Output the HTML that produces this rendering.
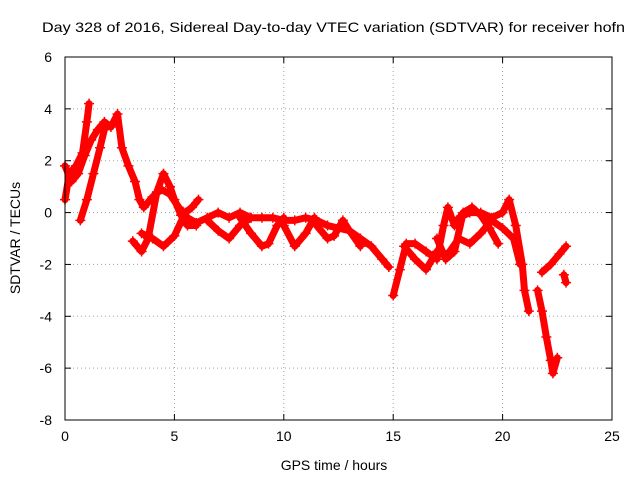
<!DOCTYPE html>
<html><head><meta charset="utf-8">
<style>
body{margin:0;background:#fff;}
svg{display:block;font-family:"Liberation Sans",sans-serif;}
</style></head>
<body>
<svg id="chart" width="640" height="480">
<text x="42" y="32" font-size="14" textLength="583" lengthAdjust="spacingAndGlyphs">Day 328 of 2016, Sidereal Day-to-day VTEC variation (SDTVAR) for receiver hofn</text>
<text x="334" y="470" font-size="14" text-anchor="middle">GPS time / hours</text>
<text transform="translate(20,238) rotate(-90)" font-size="14" text-anchor="middle">SDTVAR / TECUs</text>
<g id="grid"></g><g id="ticks"></g><g id="marks"></g>
<rect x="65" y="57" width="547" height="363" fill="none" stroke="#000" stroke-width="1"/>
</svg>
<script>
const xTicks=[0,5,10,15,20,25];
const yTicks=[-8,-6,-4,-2,0,2,4,6];
const track1=[[0,0.5],[0.2,1.5],[0.5,1.8],[0.8,2.3],[1.0,3.5],[1.1,4.2]];
const track2=[[0,1.8],[0.3,1.2],[0.6,1.5],[0.9,2.2],[1.2,2.8],[1.5,3.2],[1.8,3.5],[2.1,3.3],[2.4,3.8],[2.6,2.5],[2.9,1.8],[3.2,1.2],[3.4,0.5],[3.6,0.2],[4.0,0.6],[4.4,0.9],[4.8,0.7],[5.2,0.2],[5.6,-0.2],[6.0,-0.4],[6.5,-0.2],[7,0],[7.5,-0.2],[8,0],[8.5,-0.2],[9,-0.2],[9.5,-0.2],[10,-0.3],[10.5,-0.3],[11,-0.2],[11.5,-0.3],[12,-0.5],[12.5,-0.6],[13,-0.7],[13.5,-1.0],[14,-1.3],[14.5,-1.8],[14.8,-2.1]];
const track3=[[0.7,-0.3],[1.0,0.5],[1.3,1.5],[1.6,2.5],[1.8,3.2]];
const track4=[[3.1,-1.1],[3.5,-1.5],[3.8,-1.0],[4.2,0.8],[4.5,1.5],[4.8,1.0],[5.0,0.5],[5.3,-0.1],[5.6,-0.5],[6,-0.5]];
const track5=[[3.5,-0.8],[4,-1.0],[4.5,-1.3],[5,-0.9],[5.5,0],[5.8,0.2],[6.1,0.5]];
const track6=[[6.5,-0.3],[7,-0.7],[7.5,-1.0],[8,-0.5],[8.5,-0.2]];
const track7=[[8,-0.2],[8.5,-0.8],[9,-1.3],[9.3,-1.2],[9.7,-0.5],[10,-0.2]];
const track8=[[10,-0.5],[10.5,-1.3],[11,-0.8],[11.4,-0.2],[11.5,-0.5],[12,-1.0],[12.3,-0.9],[12.7,-0.3],[13,-0.7],[13.5,-1.3]];
const track9=[[15,-3.2],[15.3,-2.2],[15.6,-1.2],[16,-1.2],[16.5,-1.5],[17,-1.8],[17.3,-0.5],[17.5,0.2],[17.8,-0.5],[18,-0.2],[18.5,0],[19,0],[19.5,-0.2],[20,0],[20.3,0.5],[20.6,-0.5],[20.9,-2],[21,-3],[21.2,-3.8]];
const track10=[[15.5,-1.3],[16,-1.8],[16.5,-2.2],[17,-1.5],[17.5,-1.6],[18,-1.0],[18.5,-1.2],[19,-0.8],[19.5,-0.3],[20,-0.6],[20.5,-1.0],[20.8,-2.0]];
const track11=[[17,-1],[17.4,-1.8],[17.8,-1.5],[18.2,0],[18.6,0.2],[19,-0.1],[19.4,-0.6],[19.8,-1.2]];
const track12=[[21.6,-3.0],[21.8,-3.8],[22,-4.8],[22.2,-5.7],[22.3,-6.2],[22.5,-5.6]];
const track13=[[21.8,-2.3],[22.2,-2],[22.6,-1.6],[22.9,-1.3]];
const track14=[[22.8,-2.4],[22.9,-2.7]];
const tracks=[track1,track2,track3,track4,track5,track6,track7,track8,track9,track10,track11,track12,track13,track14];

const NS="http://www.w3.org/2000/svg";
const X0=65,X1=612,Y0=420,Y1=57;
function xs(v){return X0+(v-0)/(25-0)*(X1-X0);}
function ys(v){return Y0-(v-(-8))/(6-(-8))*(Y0-Y1);}
function mk(tag,attrs,parent){const e=document.createElementNS(NS,tag);for(const k in attrs)e.setAttribute(k,attrs[k]);parent.appendChild(e);return e;}
const grid=document.getElementById('grid'),ticks=document.getElementById('ticks'),marks=document.getElementById('marks');
xTicks.forEach(t=>{
  const x=xs(t);
  if(t>0&&t<25){const g=mk('line',{x1:x,x2:x,y1:Y0,y2:Y1,stroke:'#a0a0a0','stroke-dasharray':'1,3'},grid);
  
  }
  const l=mk('line',{x1:x,x2:x,y1:Y0,y2:Y0-6,stroke:'#000'},ticks);
  
  
  const l2=mk('line',{x1:x,x2:x,y1:Y1,y2:Y1+6,stroke:'#000'},ticks);
  
  
  const tx=mk('text',{x:x,y:441,'font-size':14,'text-anchor':'middle'},ticks);tx.textContent=t;
  
  
});
yTicks.forEach(t=>{
  const y=ys(t);
  if(t>-8&&t<6){const g=mk('line',{x1:X0,x2:X1,y1:y,y2:y,stroke:'#a0a0a0','stroke-dasharray':'1,3'},grid);
  
  }
  const l=mk('line',{x1:X0,x2:X0+6,y1:y,y2:y,stroke:'#000'},ticks);
  
  
  const l2=mk('line',{x1:X1,x2:X1-6,y1:y,y2:y,stroke:'#000'},ticks);
  
  
  const tx=mk('text',{x:52,y:y+5,'font-size':14,'text-anchor':'end'},ticks);tx.textContent=t;
  
  
});
tracks.forEach((tr,i)=>{
  const pts=tr.map(p=>xs(p[0])+','+ys(p[1])).join(' ');
  const pl=mk('polyline',{points:pts,fill:'none',stroke:'#ff0000','stroke-width':7,'stroke-linejoin':'round','stroke-linecap':'round'},marks);
  
  
  tr.forEach(p=>{
    const x=xs(p[0]),y=ys(p[1]);
    const m=mk('path',{d:`M${x-5},${y}H${x+5}M${x},${y-5}V${y+5}`,stroke:'#ff0000','stroke-width':1.5},marks);
    
    
  });
});
</script>
</body></html>
